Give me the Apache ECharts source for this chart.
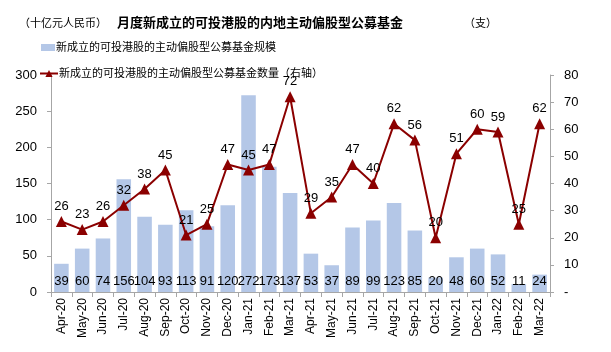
<!DOCTYPE html>
<html>
<head>
<meta charset="utf-8">
<script src="https://cdn.jsdelivr.net/npm/echarts@6/dist/echarts.min.js"></script>
<style>
  html, body { margin: 0; padding: 0; background: #fff; }
  #chart { width: 611px; height: 352px; }
</style>
</head>
<body>
<div id="chart"></div>
<script>
var months = ['Apr-20', 'May-20', 'Jun-20', 'Jul-20', 'Aug-20', 'Sep-20', 'Oct-20', 'Nov-20', 'Dec-20',
    'Jan-21', 'Feb-21', 'Mar-21', 'Apr-21', 'May-21', 'Jun-21', 'Jul-21', 'Aug-21', 'Sep-21', 'Oct-21',
    'Nov-21', 'Dec-21', 'Jan-22', 'Feb-22', 'Mar-22'];
var fundSize = [39, 60, 74, 156, 104, 93, 113, 91, 120, 272, 173, 137, 53, 37, 89, 99, 123, 85, 20, 48, 60, 52, 11, 24];
var fundCount = [26, 23, 26, 32, 38, 45, 21, 25, 47, 45, 47, 72, 29, 35, 47, 40, 62, 56, 20, 51, 60, 59, 25, 62];
var sizeName = '新成立的可投港股的主动偏股型公募基金规模';
var countName = '新成立的可投港股的主动偏股型公募基金数量（右轴）';

var cjk = '"Liberation Sans", Arial, "Noto Sans CJK SC", sans-serif';
var chart = echarts.init(document.getElementById('chart'));

var option = {
    animation: false,
    textStyle: { fontFamily: cjk },
    title: [
        {
            text: '月度新成立的可投港股的内地主动偏股型公募基金',
            left: 112, top: 12,
            textStyle: { fontSize: 13, fontWeight: 'bold', color: '#000', fontFamily: cjk }
        },
        {
            text: '（十亿元人民币）',
            left: 14, top: 13,
            textStyle: { fontSize: 11, fontWeight: 'normal', color: '#000', fontFamily: cjk }
        },
        {
            text: '（支）',
            left: 459, top: 13,
            textStyle: { fontSize: 11, fontWeight: 'normal', color: '#000', fontFamily: cjk }
        }
    ],
    legend: [
        {
            left: 36, top: 37,
            itemWidth: 14, itemHeight: 7, itemGap: 2,
            data: [{ name: sizeName, icon: 'rect' }],
            textStyle: { fontSize: 11, color: '#000', padding: [0, 0, 0, -4] }
        },
        {
            left: 34, top: 63,
            itemWidth: 18, itemHeight: 9,
            data: [{ name: countName }],
            textStyle: { fontSize: 11, color: '#000', padding: [0, 0, 0, -4] }
        }
    ],
    grid: { left: 51, right: 61, top: 75, bottom: 60 },
    xAxis: {
        type: 'category',
        data: months,
        axisLine: { lineStyle: { color: '#a6a6a6' } },
        axisTick: { show: true, alignWithLabel: false, lineStyle: { color: '#a6a6a6' } },
        axisLabel: { rotate: 90, fontSize: 12, color: '#000', margin: 6, interval: 0 }
    },
    yAxis: [
        {
            type: 'value', min: 0, max: 300, interval: 50,
            splitLine: { show: false },
            axisLine: { show: true, lineStyle: { color: '#a6a6a6' } },
            axisTick: { show: true, length: 4, lineStyle: { color: '#a6a6a6' } },
            axisLabel: { fontSize: 13, color: '#000', margin: 14 }
        },
        {
            type: 'value', min: 0, max: 80, interval: 10,
            splitLine: { show: false },
            axisLine: { show: true, lineStyle: { color: '#a6a6a6' } },
            axisTick: { show: true, length: 4, lineStyle: { color: '#a6a6a6' } },
            axisLabel: {
                fontSize: 13, color: '#000', margin: 14,
                formatter: function (v) { return v === 0 ? '-' : v; }
            }
        }
    ],
    series: [
        {
            name: sizeName,
            type: 'bar',
            data: fundSize,
            barWidth: '70%',
            itemStyle: { color: '#b4c7e7' },
            label: {
                show: true, position: 'insideBottom', distance: 4,
                fontSize: 13, color: '#000'
            }
        },
        {
            name: countName,
            type: 'line',
            yAxisIndex: 1,
            data: fundCount,
            symbol: 'triangle',
            symbolSize: 11,
            lineStyle: { color: '#8b0000', width: 2 },
            itemStyle: { color: '#8b0000' },
            label: {
                show: true, position: 'top', distance: 3,
                fontSize: 13, color: '#000'
            }
        }
    ]
};

chart.setOption(option);
</script>
</body>
</html>
